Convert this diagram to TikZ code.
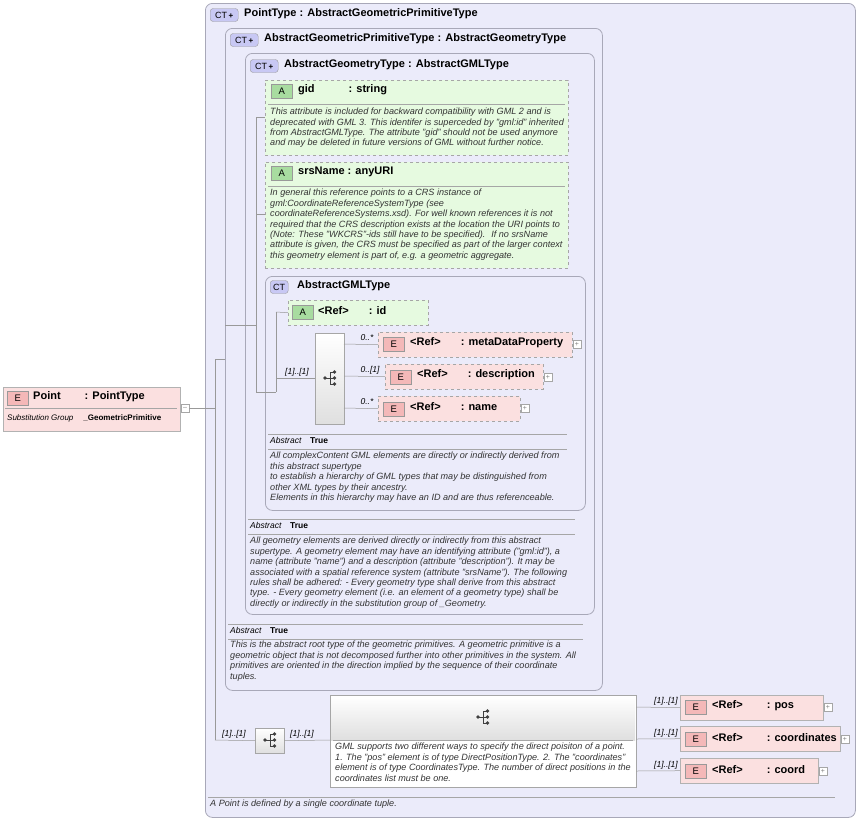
\documentclass[tikz,border=0pt]{standalone}
\usepackage{fontspec}
\setmainfont{Liberation Sans}
\begin{document}
\definecolor{ctfill}{HTML}{EBEBFA}
\definecolor{ctdraw}{HTML}{A8A8B8}
\definecolor{afill}{HTML}{E6FAE0}
\definecolor{efill}{HTML}{FBE0E0}
\definecolor{badgeE}{HTML}{F4B8B8}
\definecolor{badgeA}{HTML}{A8DCA0}
\definecolor{badgeC}{HTML}{C8C8F4}
\begin{tikzpicture}[x=1pt,y=-1pt,
  ct/.style={draw=ctdraw,fill=ctfill,rounded corners=7pt,line width=0.8pt},
  attr/.style={draw=gray!70,dashed,fill=afill},
  elem/.style={draw=gray!60,fill=efill},
  delem/.style={draw=gray!70,dashed,fill=efill},
  hd/.style={anchor=west,font=\fontsize{11}{12}\bfseries,inner sep=0pt},
  ds/.style={anchor=north west,font=\fontsize{9.1}{10.4}\selectfont\itshape,inner sep=0pt,align=left,text=black!80},
  ab/.style={anchor=north west,font=\fontsize{8.5}{10}\selectfont,inner sep=0pt},
  ml/.style={font=\fontsize{8.5}{9}\selectfont\itshape,inner sep=0pt},
  cn/.style={draw=gray!80,line width=0.5pt},
  sep/.style={draw=gray!70,line width=0.5pt},
  pl/.style={draw=gray!70,fill=white,minimum size=8pt,inner sep=0pt,font=\fontsize{7}{7}\selectfont,text=gray},
  sq/.style={draw=gray!70,top color=white,bottom color=gray!25}]
\useasboundingbox (0,0) rectangle (859,820);
\newcommand{\ctbadge}[3]{\node[draw=gray!80,fill=badgeC,rounded corners=3pt,inner sep=1pt,minimum width=#3,minimum height=13pt,font=\fontsize{9}{9}\selectfont,anchor=west] (#1) at #2 {CT\ifdim#3>20pt\,{\fontsize{8}{8}\bfseries+}\fi};}
\newcommand{\badge}[4]{\node[draw=gray!80,fill=#3,inner sep=0pt,minimum width=21pt,minimum height=14pt,font=\fontsize{9.5}{9.5}\selectfont,anchor=west] (#1) at #2 {#4};}
\newcommand{\seqicon}[2]{\begin{scope}[shift={#1}]
  \draw[black!75,line width=0.8pt] (-5,0) -- (0,0) (0,-6) -- (0,6) (0,-6) -- (4,-6) (0,0) -- (4,0) (0,6) -- (4,6);
  \fill[black!75] (-5,0) circle (1.8pt) (4.5,-6) circle (1.8pt) (4.5,0) circle (1.8pt) (4.5,6) circle (1.8pt);
  \coordinate (#2) at (0,0);\end{scope}}
% outer boxes
\node[ct,minimum width=650pt,minimum height=814pt,anchor=north west] (pt) at (205,3) {};
\node[ct,minimum width=377pt,minimum height=662pt,anchor=north west] (agp) at (225,28) {};
\node[ct,minimum width=349pt,minimum height=561pt,anchor=north west] (ag) at (245,53) {};
\node[ct,minimum width=320pt,minimum height=234pt,anchor=north west] (gml) at (265,276) {};
\ctbadge{b1}{(210,15)}{28pt}
\node[hd] (t1) at (244,14) {PointType : AbstractGeometricPrimitiveType};
\ctbadge{b2}{(230,40)}{28pt}
\node[hd] (t2) at (264,39) {AbstractGeometricPrimitiveType : AbstractGeometryType};
\ctbadge{b3}{(250,66)}{28pt}
\node[hd] (t3) at (284,65) {AbstractGeometryType : AbstractGMLType};
\ctbadge{b4}{(270,287)}{18pt}
\node[hd] (t4) at (297,286) {AbstractGMLType};
% gid
\node[attr,minimum width=303pt,minimum height=75pt,anchor=north west] (gid) at (265,80) {};
\badge{ba1}{(271,91)}{badgeA}{A}
\node[hd] (gidt) at (298,90) {gid\hspace{34pt}: string};
\draw[sep] (268,104) -- (565,104);
\node[ds] (gidd) at (270,108) {This attribute is included for backward compatibility with GML 2 and is\\deprecated with GML 3. This identifer is superceded by "gml:id" inherited\\from AbstractGMLType. The attribute "gid" should not be used anymore\\and may be deleted in future versions of GML without further notice.};
% srsName
\node[attr,minimum width=303pt,minimum height=106pt,anchor=north west] (srs) at (265,162) {};
\badge{ba2}{(271,173)}{badgeA}{A}
\node[hd] (srst) at (298,172) {srsName : anyURI};
\draw[sep] (268,186) -- (565,186);
\node[ds] (srsd) at (270,189) {In general this reference points to a CRS instance of\\gml:CoordinateReferenceSystemType (see\\coordinateReferenceSystems.xsd). For well known references it is not\\required that the CRS description exists at the location the URI points to\\(Note: These "WKCRS"-ids still have to be specified).~ If no srsName\\attribute is given, the CRS must be specified as part of the larger context\\this geometry element is part of, e.g. a geometric aggregate.};
% id
\node[attr,minimum width=140pt,minimum height=25pt,anchor=north west] (id) at (288,300) {};
\badge{ba3}{(292,312)}{badgeA}{A}
\node[hd] (idt) at (318,311) {<Ref>\hspace{20pt}: id};
% sequence
\node[sq,minimum width=29pt,minimum height=91pt,anchor=north west] (seq) at (315,333) {};
\seqicon{(330,378)}{seqi}
\node[delem,minimum width=194pt,minimum height=25pt,anchor=north west] (md) at (378,332) {};
\badge{be1}{(383,344)}{badgeE}{E}
\node[hd] (mdt) at (410,343) {<Ref>\hspace{20pt}: metaDataProperty};
\node[pl] (p1) at (577,344) {+};
\node[delem,minimum width=158pt,minimum height=25pt,anchor=north west] (de) at (385,364) {};
\badge{be2}{(390,377)}{badgeE}{E}
\node[hd] (det) at (417,375) {<Ref>\hspace{20pt}: description};
\node[pl] (p2) at (548,377) {+};
\node[delem,minimum width=142pt,minimum height=25pt,anchor=north west] (nm) at (378,396) {};
\badge{be3}{(383,409)}{badgeE}{E}
\node[hd] (nmt) at (410,407) {<Ref>\hspace{20pt}: name};
\node[pl] (p3) at (525,408) {+};
\draw[cn] (344,344) -- (md.west);
\draw[cn] (344,376) -- (de.west);
\draw[cn] (344,408) -- (nm.west);
\node[ml] (m1) at (367,338) {0..*};
\node[ml] (m2) at (370,370) {0..[1]};
\node[ml] (m3) at (367,402) {0..*};
% GML abstract
\draw[sep] (268,434) -- (567,434);
\node[ab] (ab1) at (270,437) {\textit{Abstract}\quad\textbf{True}};
\draw[sep] (268,449) -- (567,449);
\node[ds] (ab1d) at (270,452) {All complexContent GML elements are directly or indirectly derived from\\this abstract supertype\\to establish a hierarchy of GML types that may be distinguished from\\other XML types by their ancestry.\\Elements in this hierarchy may have an ID and are thus referenceable.};
% AG abstract
\draw[sep] (248,519) -- (575,519);
\node[ab] (ab2) at (250,522) {\textit{Abstract}\quad\textbf{True}};
\draw[sep] (248,534) -- (575,534);
\node[ds] (ab2d) at (250,537) {All geometry elements are derived directly or indirectly from this abstract\\supertype. A geometry element may have an identifying attribute ("gml:id"), a\\name (attribute "name") and a description (attribute "description"). It may be\\associated with a spatial reference system (attribute "srsName"). The following\\rules shall be adhered: - Every geometry type shall derive from this abstract\\type. - Every geometry element (i.e. an element of a geometry type) shall be\\directly or indirectly in the substitution group of \_Geometry.};
% AGP abstract
\draw[sep] (228,624) -- (583,624);
\node[ab] (ab3) at (230,627) {\textit{Abstract}\quad\textbf{True}};
\draw[sep] (228,639) -- (583,639);
\node[ds] (ab3d) at (230,641) {This is the abstract root type of the geometric primitives. A geometric primitive is a\\geometric object that is not decomposed further into other primitives in the system. All\\primitives are oriented in the direction implied by the sequence of their coordinate\\tuples.};
% Point element
\node[draw=gray!60,fill=efill,minimum width=177pt,minimum height=44pt,anchor=north west] (pe) at (3,387) {};
\badge{bp}{(7,398)}{badgeE}{E}
\node[hd] (pet) at (33,397) {Point\hspace{24pt}: PointType};
\draw[sep] (5,408) -- (177,408);
\node[ab,font=\fontsize{8}{9}\selectfont] (ped) at (7,414) {\textit{Substitution Group}\hspace{10pt}\textbf{\_GeometricPrimitive}};
\node[pl] (pm) at (185,408) {--};
% connectors
\coordinate (v0) at (215,408);
\draw[cn] (pm.east) -- (v0);
\draw[cn] (215,359) -- (215,740);
\draw[cn] (215,359) -- (225,359);
\draw[cn] (225,325) -- (256,325);
\draw[cn] (256,117) -- (256,392);
\draw[cn] (256,117) -- (gid.west |- 0,117);
\draw[cn] (256,214) -- (srs.west |- 0,214);
\draw[cn] (256,392) -- (276,392);
\draw[cn] (276,312) -- (276,392);
\draw[cn] (276,312) -- (id.west);
\draw[cn] (276,378) -- (seq.west |- 0,378);
\node[ml] (m0) at (297,372) {[1]..[1]};
% choice section
\node[sq,minimum width=29pt,minimum height=25pt,anchor=north west] (ch1) at (255,728) {};
\seqicon{(270,740)}{ch1i}
\draw[cn] (215,740) -- (ch1.west);
\node[ml] (m4) at (234,734) {[1]..[1]};
\node[draw=gray!70,fill=white,minimum width=306pt,minimum height=92pt,anchor=north west] (ch2) at (330,695) {};
\fill[top color=white,bottom color=gray!25] (331,696) rectangle (635,740);
\seqicon{(483,717)}{ch2i}
\draw[sep] (333,740) -- (633,740);
\node[ds] (ch2d) at (335,743) {GML supports two different ways to specify the direct poisiton of a point.\\1. The "pos" element is of type DirectPositionType. 2. The "coordinates"\\element is of type CoordinatesType. The number of direct positions in the\\coordinates list must be one.};
\draw[cn] (ch1.east) -- (ch2.west |- 0,740);
\node[ml] (m5) at (302,734) {[1]..[1]};
\node[elem,minimum width=143pt,minimum height=25pt,anchor=north west] (pos) at (680,695) {};
\badge{bq1}{(685,707)}{badgeE}{E}
\node[hd] (post) at (712,706) {<Ref>\hspace{24pt}: pos};
\node[pl] (p4) at (828,707) {+};
\node[elem,minimum width=160pt,minimum height=25pt,anchor=north west] (co) at (680,726) {};
\badge{bq2}{(685,739)}{badgeE}{E}
\node[hd] (cot) at (712,738) {<Ref>\hspace{24pt}: coordinates};
\node[pl] (p5) at (845,739) {+};
\node[elem,minimum width=138pt,minimum height=25pt,anchor=north west] (cd) at (680,758) {};
\badge{bq3}{(685,771)}{badgeE}{E}
\node[hd] (cdt) at (712,770) {<Ref>\hspace{24pt}: coord};
\node[pl] (p6) at (823,771) {+};
\draw[cn] (636,707) -- (pos.west);
\draw[cn] (636,739) -- (co.west);
\draw[cn] (636,771) -- (cd.west);
\node[ml] (m6) at (666,701) {[1]..[1]};
\node[ml] (m7) at (666,733) {[1]..[1]};
\node[ml] (m8) at (666,765) {[1]..[1]};
% footer
\draw[sep] (208,797) -- (835,797);
\node[ds] (ft) at (210,800) {A Point is defined by a single coordinate tuple.};
\end{tikzpicture}
\end{document}
